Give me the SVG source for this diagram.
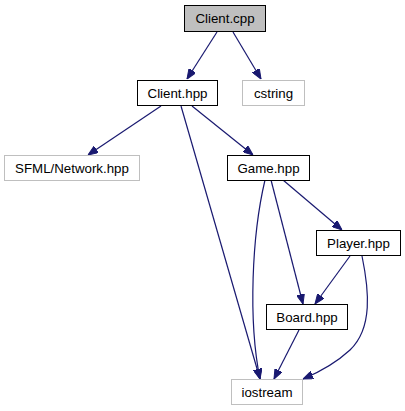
<svg xmlns="http://www.w3.org/2000/svg" width="405" height="411" viewBox="0 0 405 411">
<style>
.n rect{fill:#fff;stroke:#000;stroke-width:1}
.n.ext rect{stroke:#bfbfbf}
.n.root rect{fill:#bfbfbf}
.n text{font-family:"Liberation Sans",Arial,sans-serif;font-size:13.3px;text-anchor:middle;fill:#000}
.e path{fill:none;stroke:#191970;stroke-width:1.2}
</style>
<defs>
<marker id="a" viewBox="0 0 10 8" refX="10" refY="4" markerWidth="10" markerHeight="8" markerUnits="userSpaceOnUse" orient="auto">
<path d="M0,0 L10,4 L0,8 Z" fill="#191970" stroke="#191970"/>
</marker>
</defs>
<rect width="405" height="411" fill="#fff"/>
<g id="edges" class="e">
<path d="M217,32 L187,79" marker-end="url(#a)"/>
<path d="M233,32 L261,79" marker-end="url(#a)"/>
<path d="M161,106 L88,155" marker-end="url(#a)"/>
<path d="M192,106 L253,155" marker-end="url(#a)"/>
<path d="M181,106 L260,379" marker-end="url(#a)"/>
<path d="M265,180 C252,235 248,320 260,379" marker-end="url(#a)"/>
<path d="M271,180 L303,304" marker-end="url(#a)"/>
<path d="M283,180 L342,230" marker-end="url(#a)"/>
<path d="M350,256 L315,304" marker-end="url(#a)"/>
<path d="M362,256 C369,290 373,328 350,350 C337,362 322,371 303,379" marker-end="url(#a)"/>
<path d="M299,330 L274,379" marker-end="url(#a)"/>
</g>
<g id="client_cpp" class="n root"><rect x="184.5" y="5.5" width="81" height="26"/><text x="225" y="23">Client.cpp</text></g>
<g id="client_hpp" class="n"><rect x="137.5" y="80.5" width="80" height="25"/><text x="177.5" y="97.5">Client.hpp</text></g>
<g id="cstring" class="n ext"><rect x="242.5" y="80.5" width="62" height="25"/><text x="273.5" y="97.5">cstring</text></g>
<g id="sfml_network" class="n ext"><rect x="4.5" y="155.5" width="135" height="25"/><text x="72" y="172.5">SFML/Network.hpp</text></g>
<g id="game_hpp" class="n"><rect x="227.5" y="155.5" width="82" height="25"/><text x="268.5" y="172.5">Game.hpp</text></g>
<g id="player_hpp" class="n"><rect x="316.5" y="230.5" width="84" height="25"/><text x="358.5" y="247.5">Player.hpp</text></g>
<g id="board_hpp" class="n"><rect x="266.5" y="304.5" width="81" height="25"/><text x="307" y="321.5">Board.hpp</text></g>
<g id="iostream" class="n ext"><rect x="231.5" y="379.5" width="71" height="25"/><text x="267" y="396.5">iostream</text></g>
</svg>
